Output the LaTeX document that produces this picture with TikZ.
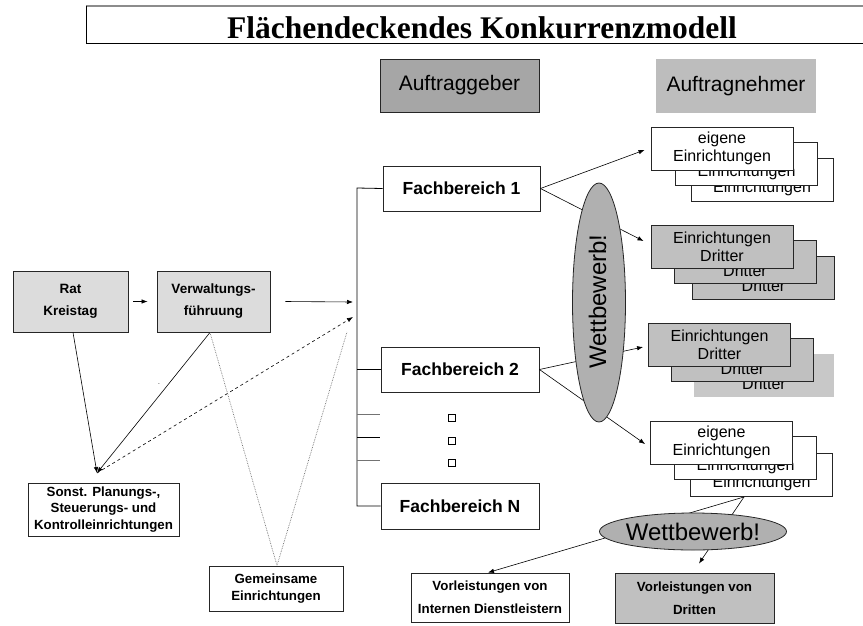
\documentclass[tikz,border=0pt]{standalone}
\usepackage{fontspec}
\setmainfont{Liberation Sans}
\newfontfamily\titlefont{Liberation Serif}
\usetikzlibrary{shapes.geometric,arrows.meta}
\definecolor{lightg}{HTML}{DCDCDC}
\definecolor{midg}{HTML}{A6A6A6}
\definecolor{headg}{HTML}{BDBDBD}
\definecolor{boxg}{HTML}{C0C0C0}
\definecolor{ellg}{HTML}{B0B0B0}
\definecolor{paleg}{HTML}{C8C8C8}
\newcommand{\fsz}[2]{\fontsize{#1}{#2}\selectfont}
\begin{document}
\begin{tikzpicture}[x=1pt,y=-1pt,
  box/.style={draw=black!85, line width=0.9pt, inner sep=0pt, align=center, fill=white},
  sz/.style 2 args={minimum width=#1pt, minimum height=#2pt},
  smallbold/.style={font=\fsz{13.3}{16.5}\bfseries},
  fbbox/.style={box, sz={157}{45}, font=\fsz{17.5}{20}\bfseries},
  grp/.style={box, sz={142}{43}, font=\fsz{16}{17.5}},
  grpg/.style={grp, fill=boxg},
  arr/.style={-{Latex[length=6pt,width=4.5pt]}, line width=0.6pt},
  conn/.style={line width=0.8pt},
  dotl/.style={line width=0.7pt, black!55, densely dotted},
  wett/.style={ellipse, draw=black!85, line width=0.8pt, fill=ellg, inner sep=0pt}
]
\useasboundingbox (0,0) rectangle (863,625);

% title
\draw[line width=1.2pt, black!45] (870,6) -- (86,6);
\draw[line width=1pt] (86,5.5) -- (86,43) -- (870,43);
\node[anchor=base, inner sep=0pt, font=\titlefont\fsz{31.5}{34}\bfseries] (title) at (482,38) {Flächendeckendes Konkurrenzmodell};

% headers
\node[box, fill=midg, sz={159}{53}, font=\fsz{21}{24}] (ag) at (459.5,85.5) {Auftraggeber};
\node[inner sep=0pt, fill=headg, sz={160}{54}, font=\fsz{21}{24}] (an) at (736,86) {Auftragnehmer};

% left part
\node[box, fill=lightg, sz={115}{61}, font=\fsz{13.5}{22}\bfseries] (rat) at (70.5,301.5) {Rat\\Kreistag};
\node[box, fill=lightg, sz={113}{61}, font=\fsz{13.5}{22}\bfseries] (verw) at (213.5,301.5) {Verwaltungs-\\führuung};
\node[box, sz={151}{53}, smallbold] (sonst) at (103.5,509.5) {Sonst. Planungs-,\\Steuerungs- und\\Kontrolleinrichtungen};
\node[box, sz={134}{45}, smallbold] (gem) at (276,588.5) {Gemeinsame\\Einrichtungen};
\node[inner sep=0pt, font=\fsz{5}{5}] (stray) at (159,385) {-};

\coordinate (sonstTip) at (97,473);
\coordinate (in1) at (353,302);
\coordinate (in2) at (353,317);
\coordinate (dotTop) at (347,332);

\draw[arr] ([shift={(5,0)}]rat.east) -- ([shift={(-9,0)}]verw.west);
\draw[arr] ([shift={(15,0)}]verw.east) -- (in1);
\draw[arr] ([shift={(2.5,0)}]rat.south) -- (sonstTip);
\draw[arr] ([shift={(-3.5,0)}]verw.south) -- (sonstTip);
\draw[arr, dashed] (sonstTip) -- (in2);
\draw[dotl] ([shift={(-3.5,0)}]verw.south) -- ([shift={(1,0)}]gem.north) -- (dotTop);

% Fachbereiche
\node[fbbox] (fb1) at (461.5,188.5) {Fachbereich 1};
\node[fbbox, sz={158}{45}] (fb2) at (460,369.5) {Fachbereich 2};
\node[fbbox, sz={158}{46}] (fbN) at (460,506) {Fachbereich N};

\coordinate (b1) at (357,188);
\coordinate (b2) at (357,369.5);
\coordinate (bN) at (357,506);
\draw[conn] (fb1.west) -- (b1) -- (bN) -- (fbN.west);
\draw[conn] (b2) -- (fb2.west);
\coordinate (s1) at (357,414);
\coordinate (s2) at (357,437);
\coordinate (s3) at (357,460);
\draw[conn, black!55] (s1) -- +(23,0);
\draw[conn] (s2) -- +(23,0);
\draw[conn, black!55] (s3) -- +(23,0);
\node[draw, line width=0.7pt, minimum size=7pt, inner sep=0pt] (q1) at (452,418) {};
\node[draw, line width=0.9pt, minimum size=7pt, inner sep=0pt] (q2) at (452,441) {};
\node[draw, line width=0.7pt, minimum size=7pt, inner sep=0pt] (q3) at (452,463) {};

% group A (eigene Einrichtungen)
\node[grp] (a3) at (762,180) {\phantom{eigene}\\Einrichtungen};
\node[grp] (a2) at (746.5,164) {\phantom{eigene}\\Einrichtungen};
\node[grp] (a1) at (722,148.5) {eigene\\Einrichtungen};
% group B
\node[grpg] (bb3) at (763.5,277.5) {\phantom{Einrichtungen}\\Dritter};
\node[grpg] (bb2) at (745,262) {\phantom{Einrichtungen}\\Dritter};
\node[grpg] (bb1) at (722,247) {Einrichtungen\\Dritter};
% group C
\node[grp, draw=none, fill=paleg, sz={140}{43}] (c3) at (764,375.5) {\phantom{Einrichtungen}\\Dritter};
\node[grpg] (c2) at (742.5,360) {\phantom{Einrichtungen}\\Dritter};
\node[grpg] (c1) at (719.5,345) {Einrichtungen\\Dritter};
% group D
\node[grp] (d3) at (761.5,475) {\phantom{eigene}\\Einrichtungen};
\node[grp] (d2) at (745.5,458) {\phantom{eigene}\\Einrichtungen};
\node[grp] (d1) at (721.5,442.5) {eigene\\Einrichtungen};

% arrows from Fachbereiche
\draw[arr] (fb1.east) -- ([shift={(-6,1.5)}]a1.west);
\draw[arr] (fb1.east) -- ([shift={(-7,-6)}]bb1.west);
\draw[arr] (fb2.east) -- ([shift={(-5,2)}]c1.west);
\draw[arr] (fb2.east) -- ([shift={(-5,1.5)}]d1.west);

\node[wett, minimum width=53pt, minimum height=239pt] (w1) at (599,302.5) {};
\node[rotate=90, inner sep=0pt, font=\fsz{24}{27}] (w1t) at (597.5,301.5) {Wettbewerb!};

% bottom
\node[box, sz={158}{49}, font=\fsz{13.3}{23}\bfseries] (vi) at (490,597.5) {Vorleistungen von\\Internen Dienstleistern};
\node[box, fill=boxg, sz={159}{50}, font=\fsz{13.3}{23}\bfseries] (vd) at (694.5,598) {Vorleistungen von\\Dritten};
\draw[arr] ([shift={(-17.5,0)}]d3.south) -- ([shift={(-2,0)}]vi.north);
\draw[arr] ([shift={(-17.5,0)}]d3.south) -- ([shift={(4.5,-9)}]vd.north);
\node[wett, minimum width=187pt, minimum height=37pt] (w2) at (693,531.5) {};
\node[inner sep=0pt, font=\fsz{24}{26}] (w2t) at (w2.center) {Wettbewerb!};
\end{tikzpicture}
\end{document}
